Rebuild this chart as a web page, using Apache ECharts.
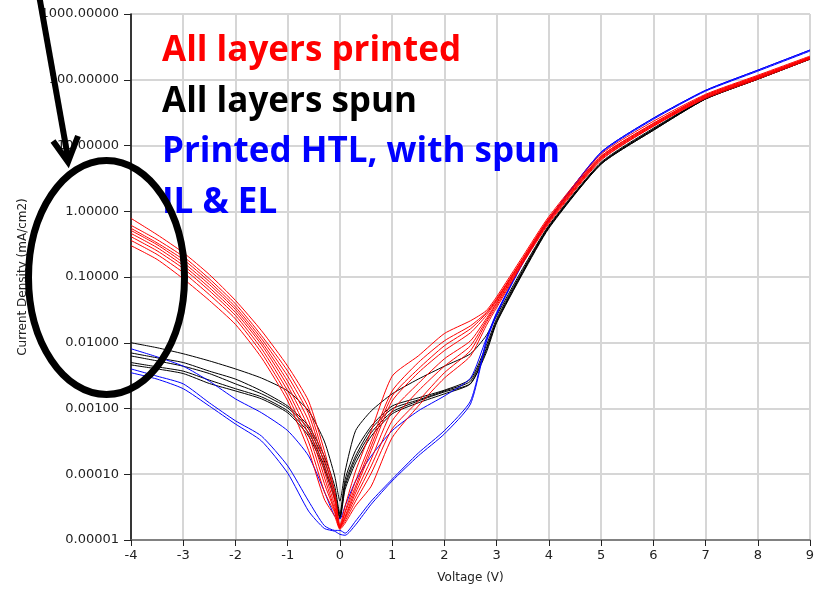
<!DOCTYPE html>
<html>
<head>
<meta charset="utf-8">
<script src="https://cdn.jsdelivr.net/npm/echarts@6/dist/echarts.min.js"></script>
<style>
  html, body { margin: 0; padding: 0; background: #fff; }
  #chart { width: 819px; height: 590px; }
</style>
</head>
<body>
<div id="chart"></div>
<script>
// voltage steps (V)
const voltage = [-4, -3.5, -3, -2.5, -2, -1.5, -1, -0.6, -0.3, -0.1, 0, 0.1, 0.3, 0.6, 1, 1.5, 2, 2.5, 2.8, 3, 3.5, 4, 5, 6, 7, 8, 9];

// all layers printed (mA/cm2)
const printedRuns = [
  [0.78, 0.44, 0.235, 0.109, 0.044, 0.0152, 0.0044, 0.0013, 2.3e-4, 5.5e-5, 1.66e-5, 3.3e-5, 1.12e-4, 4.6e-4, 3.1e-3, 6.3e-3, 0.0138, 0.0216, 0.0307, 0.050, 0.205, 0.83, 7.35, 23.3, 60, 117, 229],
  [0.61, 0.37, 0.205, 0.094, 0.039, 0.0128, 0.0037, 0.00102, 1.8e-4, 4.7e-5, 1.55e-5, 2.75e-5, 7.9e-5, 3.2e-4, 1.85e-3, 5.0e-3, 0.0107, 0.0181, 0.0287, 0.0468, 0.19, 0.78, 6.85, 21.7, 58, 113, 221],
  [0.55, 0.33, 0.185, 0.085, 0.035, 0.0115, 0.0031, 8.3e-4, 1.43e-4, 3.9e-5, 1.5e-5, 2.3e-5, 5.9e-5, 2.3e-4, 1.3e-3, 3.5e-3, 0.0076, 0.0142, 0.0258, 0.0437, 0.185, 0.75, 6.6, 21, 56, 109, 221],
  [0.51, 0.31, 0.166, 0.077, 0.032, 0.0103, 0.0026, 6.5e-4, 1.12e-4, 3.3e-5, 1.55e-5, 2.6e-5, 6.6e-5, 2.7e-4, 1.55e-3, 4.0e-3, 0.0090, 0.0163, 0.0277, 0.045, 0.19, 0.78, 6.85, 21.7, 58, 113, 221],
  [0.46, 0.28, 0.15, 0.069, 0.029, 0.0093, 0.0022, 5.1e-4, 9.1e-5, 2.9e-5, 1.6e-5, 2.2e-5, 5.2e-5, 1.7e-4, 9.2e-4, 2.4e-3, 0.0057, 0.0107, 0.0232, 0.041, 0.178, 0.72, 6.4, 20.3, 56, 109, 213],
  [0.41, 0.25, 0.135, 0.062, 0.026, 0.0081, 0.00185, 4.0e-4, 7.3e-5, 2.75e-5, 1.55e-5, 2.1e-5, 4.5e-5, 1.34e-4, 6.5e-4, 1.85e-3, 0.0044, 0.0090, 0.0216, 0.0394, 0.172, 0.70, 6.4, 20.3, 54, 106, 213],
  [0.36, 0.22, 0.117, 0.054, 0.023, 0.0070, 0.00155, 3.1e-4, 5.5e-5, 2.6e-5, 1.5e-5, 1.94e-5, 3.9e-5, 1.04e-4, 4.9e-4, 1.3e-3, 0.0035, 0.0076, 0.0201, 0.0368, 0.166, 0.68, 6.15, 19.6, 54, 106, 213],
  [0.30, 0.185, 0.094, 0.044, 0.019, 0.0059, 0.0013, 2.3e-4, 4.2e-5, 2.3e-5, 1.45e-5, 1.8e-5, 3.3e-5, 6.6e-5, 3.6e-4, 1.09e-3, 0.0029, 0.0063, 0.0181, 0.0342, 0.16, 0.65, 5.95, 19.6, 52, 102, 206]
];

// all layers spun
const spunRuns = [
  [0.0100, 0.0084, 0.0068, 0.0053, 0.0040, 0.0029, 0.00185, 9.2e-4, 3.2e-4, 9.4e-5, 3.9e-5, 1.12e-4, 4.6e-4, 9.2e-4, 0.00167, 0.0028, 0.0044, 0.0068, 0.0128, 0.0258, 0.135, 0.61, 5.55, 18.3, 52, 106, 213],
  [0.0070, 0.0059, 0.0050, 0.0037, 0.0028, 0.00185, 0.00109, 5.4e-4, 1.9e-4, 6.6e-5, 2.5e-5, 8.4e-5, 2.3e-4, 5.4e-4, 0.00109, 0.00145, 0.0019, 0.0028, 0.0090, 0.0232, 0.126, 0.59, 5.35, 17.6, 52, 106, 213],
  [0.0063, 0.0053, 0.0044, 0.0034, 0.00237, 0.00167, 0.00102, 4.9e-4, 1.6e-4, 5.5e-5, 2.3e-5, 7.3e-5, 1.9e-4, 4.9e-4, 9.9e-4, 0.00135, 0.00185, 0.0026, 0.0081, 0.0216, 0.121, 0.57, 5.35, 17.6, 51, 102, 206],
  [0.0050, 0.0043, 0.0037, 0.0027, 0.0020, 0.0015, 9.2e-4, 4.3e-4, 1.34e-4, 4.7e-5, 2.2e-5, 6.6e-5, 1.7e-4, 4.3e-4, 8.9e-4, 0.0013, 0.00179, 0.0024, 0.0076, 0.0208, 0.117, 0.57, 5.2, 17, 51, 102, 206],
  [0.0046, 0.0040, 0.0034, 0.0024, 0.00185, 0.0014, 8.6e-4, 3.8e-4, 1.2e-4, 4.2e-5, 2.1e-5, 5.9e-5, 1.49e-4, 3.8e-4, 8.3e-4, 0.00122, 0.00167, 0.00237, 0.0070, 0.0201, 0.113, 0.55, 5.2, 17, 51, 102, 206]
];

// printed HTL, spun IL & EL
const htlRuns = [
  [0.0081, 0.0061, 0.0044, 0.0026, 0.0014, 8.6e-4, 4.6e-4, 1.9e-4, 5.5e-5, 2.3e-5, 2.1e-5, 3.3e-5, 7.9e-5, 1.9e-4, 4.6e-4, 9.2e-4, 0.00155, 0.0029, 0.0115, 0.0287, 0.166, 0.75, 7.9, 26, 69, 140, 283],
  [0.0040, 0.0031, 0.00237, 0.00122, 6.5e-4, 3.8e-4, 1.34e-4, 3.9e-5, 1.66e-5, 1.4e-5, 1.4e-5, 1.27e-5, 1.94e-5, 3.9e-5, 8.4e-5, 2.1e-4, 4.6e-4, 0.0013, 0.0107, 0.0277, 0.166, 0.75, 7.9, 26, 69, 140, 283],
  [0.0035, 0.0028, 0.0020, 0.00109, 5.8e-4, 3.2e-4, 1.04e-4, 2.75e-5, 1.5e-5, 1.36e-5, 1.22e-5, 1.18e-5, 1.7e-5, 3.5e-5, 7.9e-5, 1.9e-4, 4.1e-4, 0.00117, 0.0100, 0.0267, 0.16, 0.72, 7.6, 25, 67, 135, 273]
];

const noteLines = ['All layers printed', 'All layers spun', 'Printed HTL, with spun', 'IL & EL'];
const noteColors = ['#ff0000', '#000000', '#0000ff', '#0000ff'];

const axisFont = 'DejaVu Sans';

function makeSeries(runs, color) {
  return runs.map(run => ({
    type: 'line',
    data: voltage.map((v, i) => [v, run[i]]),
    showSymbol: false,
    smooth: 0.2,
    silent: true,
    lineStyle: { color: color, width: 1 },
    z: 3
  }))
}

const chart = echarts.init(document.getElementById('chart'));

const notes = noteLines.map((t, i) => ({
  type: 'text',
  left: 162,
  top: 34 + i * 50.5,
  style: {
    text: t,
    fill: noteColors[i],
    font: 'bold 35px "Open Sans"'
  },
  z: 10
}));

chart.setOption({
  animation: false,
  grid: {
    left: 131, right: 9, top: 14, bottom: 50,
    show: true, borderColor: '#777', borderWidth: 1
  },
  xAxis: {
    type: 'value',
    min: -4, max: 9, interval: 1,
    name: 'Voltage (V)',
    nameLocation: 'middle',
    nameGap: 32,
    nameTextStyle: { fontFamily: axisFont, fontSize: 12, color: '#222' },
    axisLine: { onZero: false, lineStyle: { color: '#666', width: 1.5 } },
    axisTick: { length: 6, lineStyle: { color: '#222' } },
    axisLabel: { fontFamily: axisFont, fontSize: 13, color: '#222', margin: 9 },
    splitLine: { lineStyle: { color: '#d6d6d6', width: 2 } }
  },
  yAxis: {
    type: 'log',
    logBase: 10,
    min: 0.00001, max: 1000,
    splitNumber: 8,
    name: 'Current Density (mA/cm2)',
    nameLocation: 'middle',
    nameGap: 102,
    nameTextStyle: { fontFamily: axisFont, fontSize: 12, color: '#222' },
    axisLine: { show: true, onZero: false, lineStyle: { color: '#000', width: 1.5 } },
    axisTick: { show: true, length: 7, lineStyle: { color: '#222' } },
    axisLabel: {
      fontFamily: axisFont, fontSize: 13, color: '#222', margin: 12,
      formatter: v => Number(v).toFixed(5)
    },
    splitLine: { show: true, lineStyle: { color: '#d6d6d6', width: 2 } },
    minorTick: { show: false }
  },
  series: [
    ...makeSeries(spunRuns, '#000000'),
    ...makeSeries(htlRuns, '#0000ff'),
    ...makeSeries(printedRuns, '#ff0000')
  ],
  graphic: [
    ...notes,
    {
      type: 'ellipse',
      shape: { cx: 106.5, cy: 277.5, rx: 78, ry: 117 },
      style: { fill: 'none', stroke: '#000', lineWidth: 7 },
      z: 20
    },
    {
      type: 'polyline',
      shape: { points: [[39, -5], [68, 158]] },
      style: { stroke: '#000', lineWidth: 6, fill: 'none' },
      z: 20
    },
    {
      type: 'polyline',
      shape: { points: [[53, 141], [68, 162], [78, 136]] },
      style: { stroke: '#000', lineWidth: 6, fill: 'none', lineJoin: 'miter' },
      z: 20
    }
  ]
});
</script>
</body>
</html>
